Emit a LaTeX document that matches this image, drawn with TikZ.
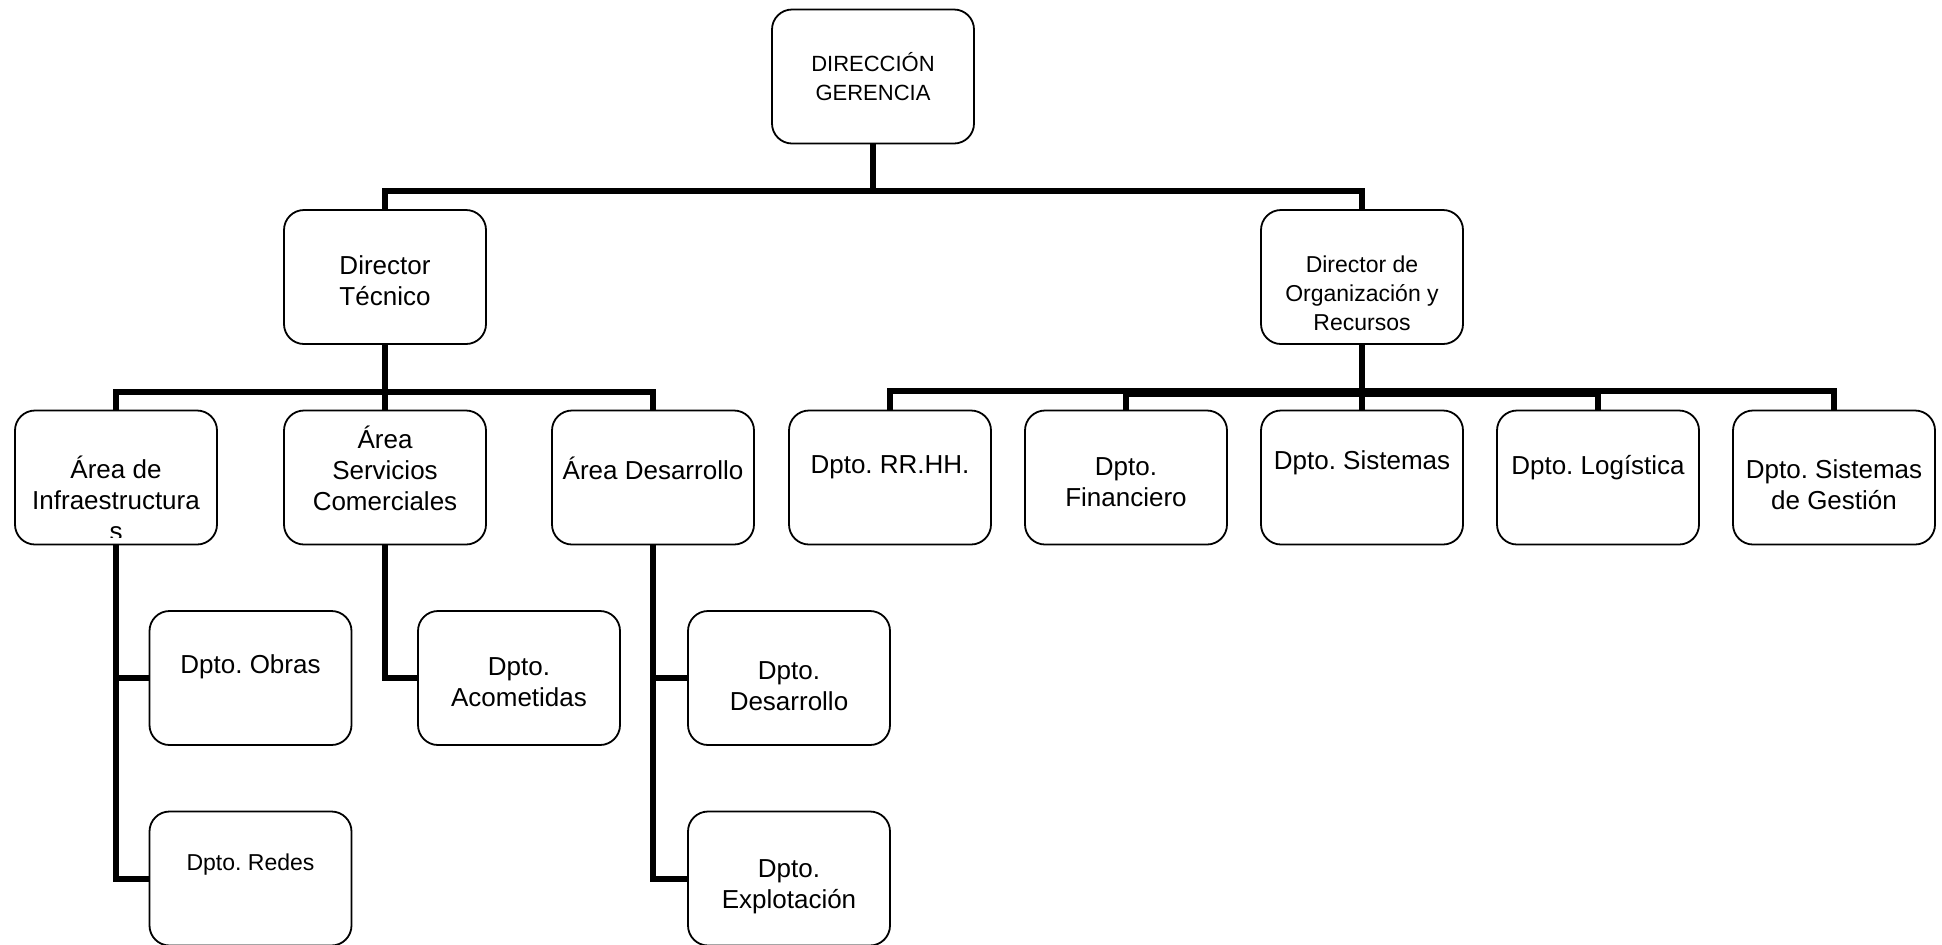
\documentclass[tikz,border=0pt]{standalone}
\usepackage{fontspec}
\setmainfont{Liberation Sans}
\frenchspacing
\begin{document}
\begin{tikzpicture}[x=0.5pt,y=-0.5pt,
  box/.style={draw, line width=0.9pt, rounded corners=10pt, fill=white,
    minimum width=101pt, minimum height=67pt, inner sep=0pt},
  link/.style={line width=3pt},
  txt/.style={align=center, inner sep=0pt, font=\fontsize{13}{15.5}\selectfont},
  small/.style={txt, font=\fontsize{11}{14.2}\selectfont},
  mid/.style={txt, font=\fontsize{11.5}{14.5}\selectfont}]
\useasboundingbox (0,0) rectangle (1942,944);

% boxes
\node[box] (dg)    at (873,76.5)  {};
\node[box] (dt)    at (385,277)   {};
\node[box] (dor)   at (1362,277)  {};
\node[box] (infra) at (116,477.5) {};
\node[box] (serv)  at (385,477.5) {};
\node[box] (desa)  at (653,477.5) {};
\node[box] (rrhh)  at (890,477.5) {};
\node[box] (fin)   at (1126,477.5){};
\node[box] (sis)   at (1362,477.5){};
\node[box] (log)   at (1598,477.5){};
\node[box] (sg)    at (1834,477.5){};
\node[box] (obras) at (250.5,678) {};
\node[box] (redes) at (250.5,878.5){};
\node[box] (acom)  at (519,678)   {};
\node[box] (dd)    at (789,678)   {};
\node[box] (expl)  at (789,878.5) {};

% labels
\node[small] (dg-t)  at (dg.center) {DIRECCIÓN\\GERENCIA};
\node[txt] (dt-t)    at ([yshift=-1.75pt]dt.center) {Director\\Técnico};
\node[mid] (dor-t)   at ([yshift=-8pt]dor.center) {Director de\\Organización y\\Recursos};
\begin{scope}
  \clip (15,412) rectangle (217,537);
  \node[txt] (infra-t) at ([yshift=-10.5pt]infra.center) {Área de\\Infraestructura\\s};
\end{scope}
\node[txt] (serv-t)  at ([yshift=4.5pt]serv.center) {Área\\Servicios\\Comerciales};
\node[txt] (desa-t)  at ([yshift=4.5pt]desa.center) {Área Desarrollo};
\node[txt] (rrhh-t)  at ([yshift=5pt]rrhh.center) {Dpto. RR.HH.};
\node[txt] (fin-t)   at ([yshift=-2.5pt]fin.center) {Dpto.\\Financiero};
\node[txt] (sis-t)   at ([yshift=7.5pt]sis.center) {Dpto. Sistemas};
\node[txt] (log-t)   at ([yshift=5pt]log.center) {Dpto. Logística};
\node[txt] (sg-t)    at ([yshift=-3.5pt]sg.center) {Dpto. Sistemas\\de Gestión};
\node[txt] (obras-t) at ([yshift=5.75pt]obras.center) {Dpto. Obras};
\node[mid] (redes-t) at ([yshift=7pt]redes.center) {Dpto. Redes};
\node[txt] (acom-t)  at ([yshift=-2pt]acom.center) {Dpto.\\Acometidas};
\node[txt] (dd-t)    at ([yshift=-4pt]dd.center) {Dpto.\\Desarrollo};
\node[txt] (expl-t)  at ([yshift=-4pt]expl.center) {Dpto.\\Explotación};

% top level
\draw[link] (dg.south) -- ++(0,46.5) coordinate (j1);
\draw[link] (j1) -| (dt.north);
\draw[link] (j1) -| (dor.north);

% technical branch
\draw[link] (dt.south) -- ++(0,47) coordinate (j2);
\draw[link] (j2) -| (infra.north);
\draw[link] (j2) -| (desa.north);
\draw[link] (j2) -- (serv.north);

% organisation branch
\draw[link] (dor.south) -- ++(0,46.5) coordinate (j3);
\draw[link] (j3) -| (rrhh.north);
\draw[link] (j3) -| (sg.north);
\draw[link] (j3) -- (sis.north);
\draw[link] (fin.north) |- ([yshift=-1.3pt]j3);
\draw[link] (log.north) |- ([yshift=-1.3pt]j3);

% departments under each area
\draw[link] (infra.south) |- (redes.west);
\draw[link] (infra.south |- obras.west) -- (obras.west);
\draw[link] (serv.south) |- (acom.west);
\draw[link] (desa.south) |- (expl.west);
\draw[link] (desa.south |- dd.west) -- (dd.west);
\end{tikzpicture}
\end{document}
